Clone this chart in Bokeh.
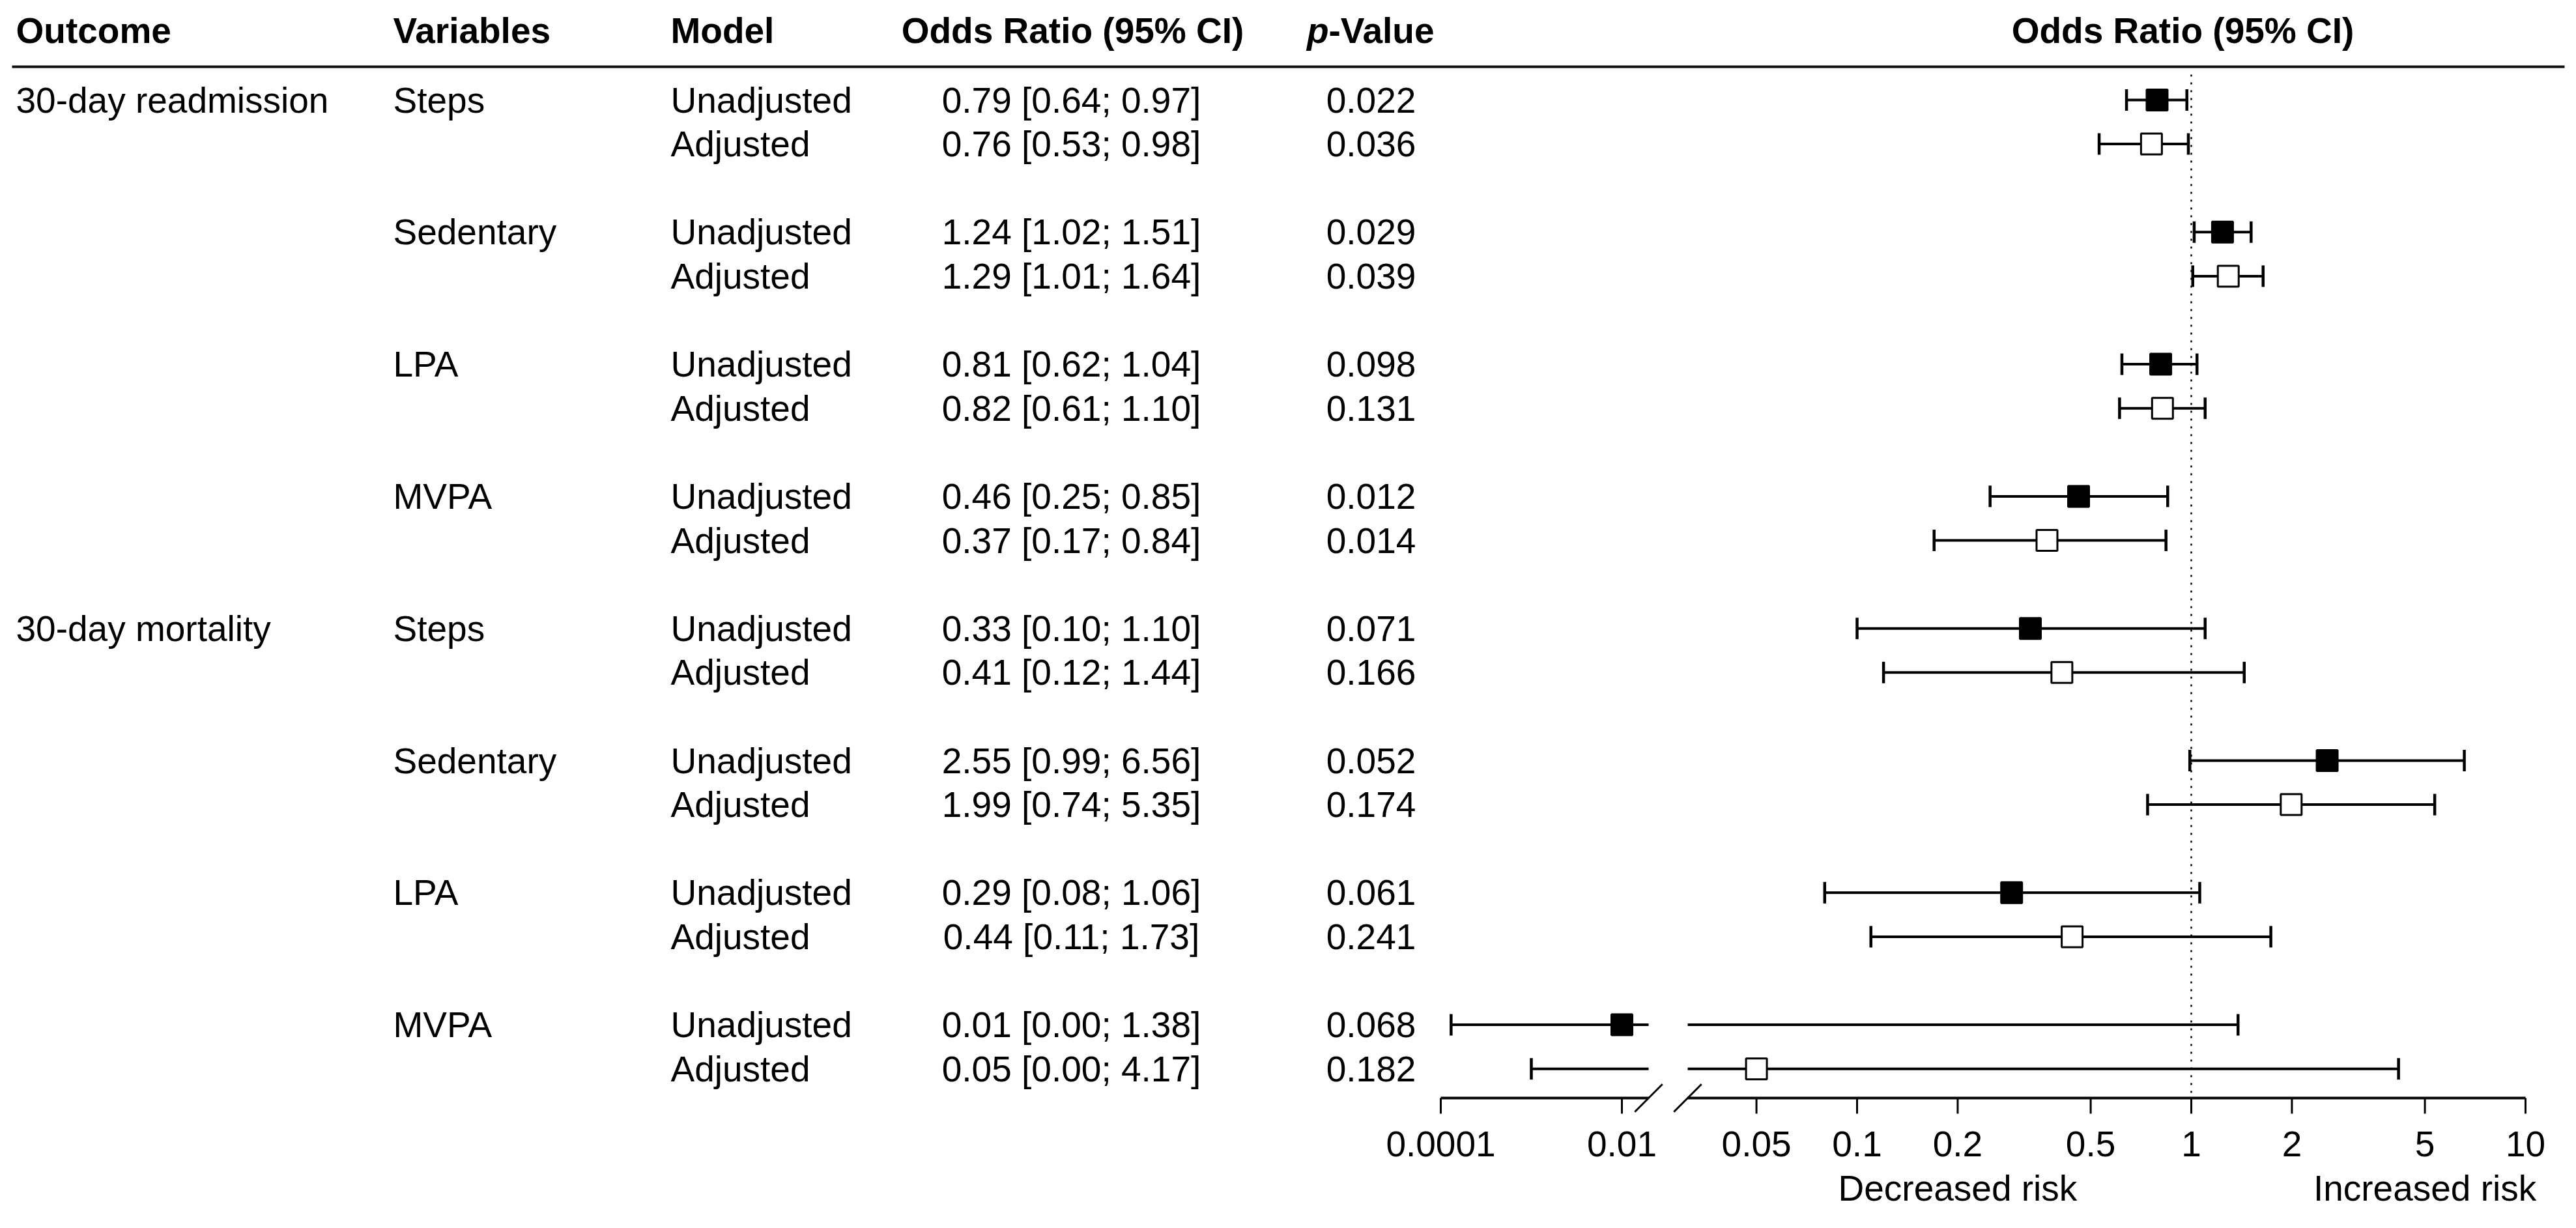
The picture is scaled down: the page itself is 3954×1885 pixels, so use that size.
import math
from bokeh.plotting import figure
from bokeh.models import Range1d, LogScale, ColumnDataSource
from bokeh.core.properties import value
from bokeh.embed import file_html
from bokeh.resources import INLINE

# ---------------- data ----------------
outcomes = ["30-day readmission", "30-day mortality"]
variables = ["Steps", "Sedentary", "LPA", "MVPA"]
models = ["Unadjusted", "Adjusted"]
or_est = [0.79, 0.76, 1.24, 1.29, 0.81, 0.82, 0.46, 0.37,
          0.33, 0.41, 2.55, 1.99, 0.29, 0.44, 0.01, 0.05]
ci_lo = [0.64, 0.53, 1.02, 1.01, 0.62, 0.61, 0.25, 0.17,
         0.10, 0.12, 0.99, 0.74, 0.08, 0.11, 0.00013, 0.001]
ci_hi = [0.97, 0.98, 1.51, 1.64, 1.04, 1.10, 0.85, 0.84,
         1.10, 1.44, 6.56, 5.35, 1.06, 1.73, 1.38, 4.17]
p_values = ["0.022", "0.036", "0.029", "0.039", "0.098", "0.131", "0.012", "0.014",
            "0.071", "0.166", "0.052", "0.174", "0.061", "0.241", "0.068", "0.182"]
ticks_left = [0.0001, 0.01]
tick_labels_left = ["0.0001", "0.01"]
ticks_right = [0.05, 0.1, 0.2, 0.5, 1, 2, 5, 10]
tick_labels_right = ["0.05", "0.1", "0.2", "0.5", "1", "2", "5", "10"]
risk_labels = ["Decreased risk", "Increased risk"]
risk_label_at = [0.2, 5]
headers = ["Outcome", "Variables", "Model", "Odds Ratio (95% CI)"]

# ---------------- layout constants ----------------
W, H, M = 3938, 1869, 8
ROW0, ROWPX = 161.0, 67.6          # pixel of first row, pixels per row unit
ONE_PX, DEC_R = 3371.0, 513.0      # right (main) log segment
L_PX, DEC_L = 2497.0, 139.0        # left (compressed) log segment, 0.01 position
BREAK_L_PX, BREAK_R_PX = 2538.0, 2598.0
FONT = value("Liberation Sans")
FS = "55px"


def r(Y):
    return (Y - ROW0) / ROWPX


BL = 10 ** ((BREAK_L_PX - L_PX) / DEC_L - 2)
BR = 10 ** ((BREAK_R_PX - ONE_PX) / DEC_R)

p = figure(width=W, height=H, output_backend="svg", toolbar_location=None,
           x_range=Range1d(M, M + W), y_range=Range1d(r(M + H), r(M)),
           x_axis_location=None, y_axis_location=None, min_border=0,
           outline_line_color=None)
p.grid.visible = False
p.background_fill_color = "white"
p.border_fill_color = "white"
p.extra_x_ranges = {
    "R": Range1d(10 ** ((M - ONE_PX) / DEC_R), 10 ** ((M + W - ONE_PX) / DEC_R)),
    "L": Range1d(10 ** ((M - L_PX) / DEC_L - 2), 10 ** ((M + W - L_PX) / DEC_L - 2)),
}
p.extra_x_scales = {"R": LogScale(), "L": LogScale()}

n = len(or_est)
rows = [3 * (k // 2) + (k % 2) for k in range(n)]

TXT = dict(text_font=FONT, text_font_size=FS, text_baseline="middle", text_color="black")

# ---------------- table ----------------
hdr_y = r(54)
p.text(x=[32, 611, 1037], y=[hdr_y] * 3, text=headers[:3], text_font_style="bold",
       text_align="left", **TXT)
p.text(x=[1654, 3358], y=[hdr_y] * 2, text=[headers[3], headers[3]],
       text_font_style="bold", text_align="center", **TXT)
p.text(x=[2047], y=[hdr_y], text=["p"], text_font_style="bold italic",
       text_align="right", **TXT)
p.text(x=[2047], y=[hdr_y], text=["-Value"], text_font_style="bold",
       text_align="left", **TXT)

p.segment(x0=[26], x1=[3944], y0=[r(110)], y1=[r(110)], line_color="#111111", line_width=4)

p.text(x=[32, 32], y=[0, 12], text=outcomes, text_align="left", **TXT)
p.text(x=[611] * 8, y=[3 * g for g in range(8)], text=[variables[g % 4] for g in range(8)],
       text_align="left", **TXT)

tab = ColumnDataSource(dict(
    y=rows,
    model=[models[k % 2] for k in range(n)],
    ci=[f"{or_est[k]:.2f} [{ci_lo[k]:.2f}; {ci_hi[k]:.2f}]" for k in range(n)],
    pv=p_values,
))
p.text(x=1037, y="y", text="model", source=tab, text_align="left", **TXT)
p.text(x=1652, y="y", text="ci", source=tab, text_align="center", **TXT)
p.text(x=2112, y="y", text="pv", source=tab, text_align="center", **TXT)

# ---------------- reference line at OR = 1 ----------------
y_axis = r(1693)
p.segment(x0=[1], x1=[1], y0=[r(122)], y1=[y_axis], x_range_name="R",
          line_color="black", line_width=2.5, line_dash="3 9")

# ---------------- CI lines ----------------
segR = dict(x0=[], x1=[], y=[])
segL = dict(x0=[], x1=[], y=[])
capR = dict(x=[], y0=[], y1=[])
capL = dict(x=[], y0=[], y1=[])
CAP = 16.5 / ROWPX
for k in range(n):
    lo, hi, yy = ci_lo[k], ci_hi[k], rows[k]
    if hi > BR:
        segR["x0"].append(max(lo, BR)); segR["x1"].append(hi); segR["y"].append(yy)
    if lo < BL:
        segL["x0"].append(lo); segL["x1"].append(min(hi, BL)); segL["y"].append(yy)
    for v in (lo, hi):
        d = capR if v >= BR else capL
        d["x"].append(v); d["y0"].append(yy - CAP); d["y1"].append(yy + CAP)

p.segment(x0="x0", x1="x1", y0="y", y1="y", source=ColumnDataSource(segR),
          x_range_name="R", line_color="black", line_width=4)
p.segment(x0="x0", x1="x1", y0="y", y1="y", source=ColumnDataSource(segL),
          x_range_name="L", line_color="black", line_width=4)
p.segment(x0="x", x1="x", y0="y0", y1="y1", source=ColumnDataSource(capR),
          x_range_name="R", line_color="black", line_width=4.5)
p.segment(x0="x", x1="x", y0="y0", y1="y1", source=ColumnDataSource(capL),
          x_range_name="L", line_color="black", line_width=4.5)

# ---------------- point estimates ----------------
for side, test in (("R", lambda v: v >= BR), ("L", lambda v: v < BR)):
    for kind in (0, 1):
        ks = [k for k in range(n) if k % 2 == kind and test(or_est[k])]
        if not ks:
            continue
        src = ColumnDataSource(dict(x=[or_est[k] for k in ks], y=[rows[k] for k in ks]))
        p.scatter(x="x", y="y", source=src, x_range_name=side, marker="square", size=32,
                  fill_color="black" if kind == 0 else "white", line_color="black",
                  line_width=3)

# ---------------- broken log axis ----------------
p.segment(x0=[ticks_left[0]], x1=[BL], y0=[y_axis], y1=[y_axis], x_range_name="L",
          line_color="black", line_width=4)
p.segment(x0=[BR], x1=[ticks_right[-1]], y0=[y_axis], y1=[y_axis], x_range_name="R",
          line_color="black", line_width=4)
y_tick = r(1717)
p.segment(x0=ticks_left, x1=ticks_left, y0=[y_axis] * len(ticks_left),
          y1=[y_tick] * len(ticks_left), x_range_name="L", line_color="black", line_width=3)
p.segment(x0=ticks_right, x1=ticks_right, y0=[y_axis] * len(ticks_right),
          y1=[y_tick] * len(ticks_right), x_range_name="R", line_color="black", line_width=3)
y_lab = r(1763)
p.text(x=ticks_left, y=[y_lab] * len(ticks_left), text=tick_labels_left, x_range_name="L",
       text_align="center", **TXT)
p.text(x=ticks_right, y=[y_lab] * len(ticks_right), text=tick_labels_right, x_range_name="R",
       text_align="center", **TXT)
p.text(x=risk_label_at, y=[r(1831)] * 2, text=risk_labels, x_range_name="R",
       text_align="center", **TXT)
# break marks
p.scatter(x=[BL], y=[y_axis], x_range_name="L", marker="dash", size=60,
          angle=math.pi / 4, line_color="black", line_width=3)
p.scatter(x=[BR], y=[y_axis], x_range_name="R", marker="dash", size=60,
          angle=math.pi / 4, line_color="black", line_width=3)

open("out.html", "w").write(file_html(p, INLINE))
